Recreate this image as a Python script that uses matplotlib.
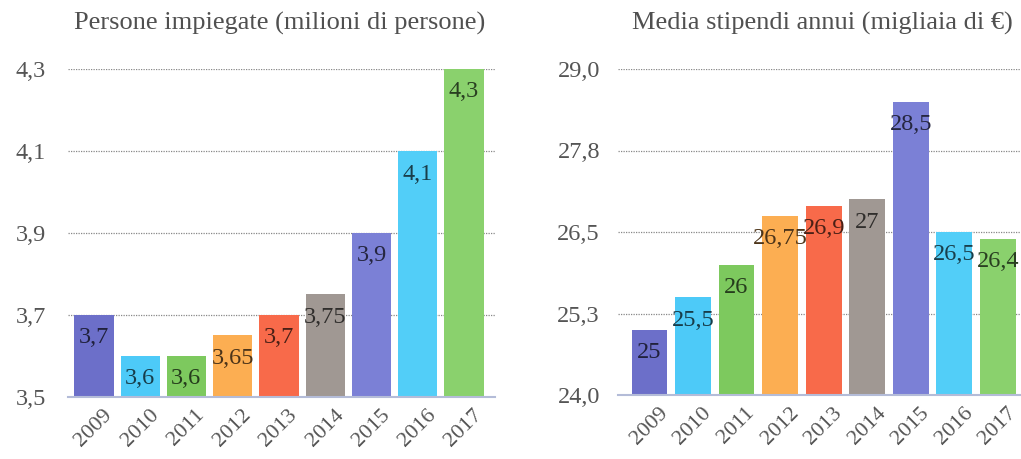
import matplotlib.pyplot as plt
from matplotlib.colors import to_rgb

anni = ['2009', '2010', '2011', '2012', '2013', '2014', '2015', '2016', '2017']
persone = [3.7, 3.6, 3.6, 3.65, 3.7, 3.75, 3.9, 4.1, 4.3]
stipendi = [25, 25.5, 26, 26.75, 26.9, 27, 28.5, 26.5, 26.4]
tick_persone = [3.5, 3.7, 3.9, 4.1, 4.3]
tick_stipendi = [24.0, 25.25, 26.5, 27.75, 29.0]
colori = ['#6c6fc9', '#4dcaf8', '#7dc95e', '#fcae52', '#f86a4a',
          '#a09893', '#7b80d6', '#52cef8', '#8ad16d']

plt.rcParams['font.family'] = ['Liberation Serif', 'DejaVu Serif']


def scuro(c, f=0.3):
    r, g, b = to_rgb(c)
    return (r * f, g * f, b * f)


def etichetta(v):
    s = ('%g' % v).replace('.', ',')
    return s


def grafico(ax, valori, ticks, ylim, xlim, larghezza, fmt):
    x = range(len(anni))
    ax.bar(x, [v - ylim[0] for v in valori], bottom=ylim[0], width=larghezza,
           color=colori, zorder=2)
    for i, v in enumerate(valori):
        ax.annotate(etichetta(v), (i, v), xytext=(0, -23), textcoords='offset pixels',
                    ha='center', va='center', fontsize=17.5, color=scuro(colori[i]),
                    zorder=3)
    ax.set_ylim(*ylim)
    ax.set_xlim(*xlim)
    ax.set_yticks(ticks)
    ax.set_yticklabels([fmt(t) for t in ticks])
    ax.set_xticks(list(x))
    ax.set_xticklabels(anni, rotation=45, ha='center', va='top')
    for s in ['top', 'right', 'left']:
        ax.spines[s].set_visible(False)
    ax.spines['bottom'].set_color('#b4bcd8')
    ax.spines['bottom'].set_linewidth(1.5)
    ax.tick_params(axis='y', length=0, labelsize=17.5, labelcolor='#555555')
    ax.tick_params(axis='x', length=0, labelsize=16, labelcolor='#555555', pad=6)
    ax.yaxis.grid(True, linestyle=(0, (1, 1)), color='#888888', linewidth=0.9, zorder=0)
    ax.set_axisbelow(True)


fig = plt.figure(figsize=(10.21, 4.59), dpi=100)

ax1 = fig.add_axes([68 / 1021, 62 / 459, 427 / 1021, 328 / 459])
grafico(ax1, persone, tick_persone, (3.5, 4.3), (-0.56, 8.67), 0.85,
        lambda t: ('%.1f' % t).replace('.', ','))
ax1.tick_params(axis='y', pad=16)

ax2 = fig.add_axes([618 / 1021, 64 / 459, 403 / 1021, 326 / 459])
grafico(ax2, stipendi, tick_stipendi, (24.0, 29.0), (-0.72, 8.53), 0.82,
        lambda t: ('%.1f' % (round(t * 10 + 0.01) / 10)).replace('.', ','))
ax2.tick_params(axis='y', pad=13)

fig.text(280 / 1021, 1 - 23 / 459, 'Persone impiegate (milioni di persone)',
         ha='center', va='center', fontsize=19, color='#505050')
fig.text(822 / 1021, 1 - 23 / 459, 'Media stipendi annui (migliaia di €)',
         ha='center', va='center', fontsize=19, color='#505050')

fig.savefig('out.png', dpi=100, facecolor='white')
